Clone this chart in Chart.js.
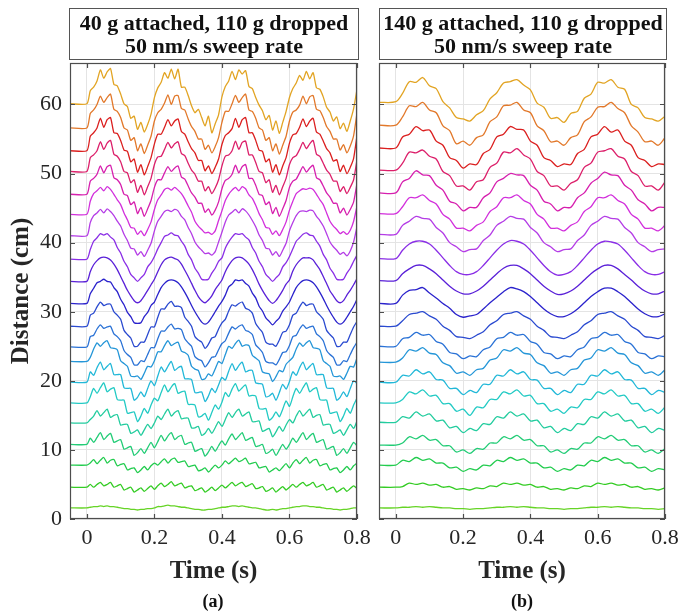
<!DOCTYPE html>
<html>
<head>
<meta charset="utf-8">
<script src="https://cdn.jsdelivr.net/npm/chart.js@4/dist/chart.umd.min.js"></script>
<style>
  html, body { margin: 0; padding: 0; background: #fff; }
  #fig { position: relative; width: 678px; height: 614px; overflow: hidden; }
  canvas { position: absolute; top: 0; }
  .ttl { position: absolute; top: 8px; height: 52px; box-sizing: border-box; border: 1.5px solid #555;
         font: bold 22px 'Liberation Serif', 'Times New Roman', serif; line-height: 23px; text-align: center;
         padding-top: 2px; color: #111; }
  .tag { position: absolute; top: 591px; width: 60px; text-align: center; color: #111;
         font: bold 18px 'Liberation Serif', 'Times New Roman', serif; }
</style>
</head>
<body>
<div id="fig">
  <canvas id="chartA" width="380" height="614" style="left:0"></canvas>
  <canvas id="chartB" width="316" height="614" style="left:362px"></canvas>
  <div class="ttl" style="left:69px;width:290px">40 g attached, 110 g dropped<br>50 nm/s sweep rate</div>
  <div class="ttl" style="left:379px;width:288px">140 g attached, 110 g dropped<br>50 nm/s sweep rate</div>
  <div class="tag" style="left:183px">(a)</div>
  <div class="tag" style="left:492px">(b)</div>
</div>
<script>
"use strict";

// time axes (s)
const timeA = [-0.05,0,0.01,0.02,0.03,0.04,0.05,0.06,0.07,0.08,0.09,0.1,0.11,0.12,0.13,0.14,0.15,0.16,0.17,0.18,0.19,
  0.2,0.21,0.22,0.23,0.24,0.25,0.26,0.27,0.28,0.29,0.3,0.31,0.32,0.33,0.34,0.35,0.36,0.37,0.38,0.39,
  0.4,0.41,0.42,0.43,0.44,0.45,0.46,0.47,0.48,0.49,0.5,0.51,0.52,0.53,0.54,0.55,0.56,0.57,0.58,0.59,
  0.6,0.61,0.62,0.63,0.64,0.65,0.66,0.67,0.68,0.69,0.7,0.71,0.72,0.73,0.74,0.75,0.76,0.77,0.78,0.79,0.8];
const timeB = [-0.05,0,0.02,0.04,0.06,0.08,0.1,0.12,0.14,0.16,0.18,0.2,0.22,0.24,0.26,0.28,0.3,0.32,0.34,0.36,0.38,
  0.4,0.42,0.44,0.46,0.48,0.5,0.52,0.54,0.56,0.58,0.6,0.62,0.64,0.66,0.68,0.7,0.72,0.74,0.76,0.78,0.8];

const xTicks = [0, 0.2, 0.4, 0.6, 0.8];
const yTicks = [0, 10, 20, 30, 40, 50, 60];

// panel (a): 40 g attached, traces top to bottom (cm)
const a01 = [60.1,60.1,62.0,62.5,63.4,65.0,63.8,64.7,65.2,62.9,62.7,61.5,60.1,59.7,58.0,58.3,56.4,57.4,56.0,57.1,58.6,
  61.0,62.4,63.2,64.6,63.8,65.1,63.7,65.1,62.5,62.5,61.3,59.8,58.8,59.3,58.1,56.9,58.3,55.9,57.2,58.5,
  61.1,62.6,63.4,64.8,63.6,65.0,64.4,64.9,62.6,62.3,61.0,59.9,59.1,57.8,58.4,56.3,57.6,55.8,57.4,59.0,
  61.0,62.3,63.1,64.2,63.5,64.8,63.7,64.6,62.4,62.2,61.1,59.6,58.9,57.6,58.2,56.5,57.3,56.1,57.6,59.4,62.2];
const a02 = [56.6,56.6,58.7,59.2,60.0,61.2,60.3,61.0,61.5,59.3,59.0,58.1,56.6,56.3,54.8,55.2,53.3,54.3,52.9,54.1,55.4,
  57.6,58.8,59.3,60.2,61.4,60.0,61.2,61.3,59.4,59.2,57.9,56.8,56.1,55.0,55.0,53.5,54.1,53.0,53.9,55.2,
  57.4,59.0,59.0,60.1,61.3,60.3,61.0,61.5,59.2,59.0,58.0,56.6,56.3,54.8,55.2,53.3,54.3,52.8,54.1,55.4,
  57.6,58.9,59.2,59.9,61.2,60.1,61.1,61.3,59.3,59.1,58.1,56.8,56.1,55.0,55.0,53.4,54.2,53.0,54.0,55.5,58.8];
const a03 = [53.3,53.3,55.4,55.9,56.6,58.0,56.7,57.8,58.1,55.9,55.8,54.8,53.4,53.2,51.7,52.1,50.2,51.3,49.8,51.0,52.3,
  54.3,55.7,55.7,56.7,57.8,56.9,57.6,57.9,56.1,55.7,54.6,53.6,53.0,51.9,51.9,50.4,51.1,50.0,50.9,52.1,
  54.2,55.5,55.9,56.5,58.0,56.7,57.8,58.1,55.9,55.9,54.8,53.4,53.2,51.7,52.1,50.2,51.3,49.8,51.1,52.3,
  54.4,55.6,55.8,56.7,57.9,56.8,57.6,58.0,56.0,55.7,54.7,53.6,53.0,51.8,52.0,50.3,51.2,50.0,50.9,52.2,55.5];
const a04 = [50.3,50.3,52.3,52.7,53.3,54.6,53.5,54.4,54.8,52.8,52.5,51.7,50.3,50.1,48.7,49.1,47.3,48.3,46.9,48.1,49.3,
  51.3,52.4,52.5,53.5,54.5,53.7,54.3,54.6,52.9,52.6,51.5,50.5,49.9,48.9,48.9,47.5,48.1,47.1,47.9,49.1,
  51.1,52.5,52.7,53.3,54.7,53.5,54.5,54.7,52.7,52.7,51.6,50.3,50.1,48.7,49.1,47.3,48.3,46.9,48.1,49.3,
  51.3,52.3,52.6,53.5,54.5,53.6,54.3,54.8,52.8,52.5,51.5,50.5,49.9,48.9,48.9,47.4,48.1,47.1,48.0,49.1,52.0];
const a05 = [47.0,47.0,48.9,49.3,49.9,51.1,50.1,51.0,51.2,49.4,49.1,48.4,47.0,46.8,45.5,45.9,44.2,45.1,43.8,44.9,46.1,
  48.0,49.1,49.1,50.1,51.0,50.3,50.8,51.1,49.5,49.2,48.2,47.2,46.6,45.7,45.7,44.4,44.9,44.0,44.7,45.9,
  47.8,49.0,49.3,49.9,51.2,50.1,51.0,51.3,49.3,49.3,48.3,47.0,46.8,45.5,45.9,44.2,45.1,43.8,44.9,46.1,
  48.0,48.9,49.2,50.1,51.0,50.2,50.8,51.2,49.4,49.1,48.2,47.2,46.6,45.7,45.7,44.3,45.0,44.0,44.8,45.9,48.6];
const a06 = [44.1,44.1,46.0,47.1,47.5,48.0,47.5,48.1,47.7,47.0,46.2,45.5,44.3,43.3,42.2,42.1,41.2,41.7,41.0,41.9,43.0,
  44.8,46.2,46.9,47.7,47.9,47.6,48.0,47.6,47.1,46.3,45.3,44.4,43.1,42.4,41.9,41.4,41.5,41.2,41.7,43.2,
  44.6,46.1,47.0,47.6,48.0,47.5,48.1,47.8,46.9,46.4,45.4,44.2,43.3,42.2,42.1,41.2,41.7,41.0,41.9,43.0,
  44.7,46.0,47.1,47.5,47.8,47.7,47.9,47.7,47.0,46.2,45.5,44.3,43.1,42.4,41.9,41.3,41.6,41.2,41.8,43.1,45.3];
const a07 = [41.0,41.0,42.9,43.9,44.3,44.8,44.3,44.9,44.5,43.9,43.1,42.4,41.2,40.3,39.2,39.1,38.2,38.7,38.0,38.9,39.9,
  41.7,43.1,43.8,44.5,44.7,44.5,44.8,44.6,43.8,43.3,42.2,41.3,40.1,39.4,38.9,38.4,38.5,38.2,38.7,40.1,
  41.5,43.0,44.0,44.4,44.8,44.3,44.9,44.6,44.0,43.2,42.3,41.1,40.3,39.2,39.1,38.2,38.7,38.0,38.9,39.9,
  41.7,42.9,43.9,44.5,44.6,44.5,44.7,44.6,43.8,43.2,42.4,41.3,40.1,39.4,38.9,38.3,38.6,38.1,38.8,40.1,42.3];
const a08 = [37.6,37.6,39.0,40.2,40.7,41.3,41.1,41.3,40.8,40.4,39.3,38.5,37.3,36.5,35.4,34.9,34.4,34.9,35.4,36.5,37.1,
  38.0,39.1,40.0,40.9,41.1,41.4,41.1,41.0,40.2,39.5,38.3,37.5,36.3,35.6,34.7,34.6,34.7,35.6,36.3,37.3,
  37.8,39.2,40.1,40.8,41.3,41.2,41.3,40.8,40.4,39.3,38.5,37.3,36.5,35.4,34.9,34.4,34.9,35.4,36.5,37.1,
  38.0,39.1,40.2,40.7,41.2,41.4,41.1,41.0,40.2,39.5,38.3,37.5,36.3,35.6,34.7,34.6,34.7,35.6,36.3,37.3,38.2];
const a09 = [34.4,34.4,35.8,36.8,37.4,37.8,37.9,37.8,37.5,36.9,36.1,35.1,34.1,33.1,32.3,31.6,31.3,31.6,32.3,33.1,33.9,
  34.7,35.8,36.8,37.5,37.8,37.9,37.7,37.5,36.9,36.0,35.1,34.1,33.1,32.2,31.6,31.3,31.7,32.3,33.2,33.9,
  34.6,35.8,36.7,37.4,37.8,37.9,37.8,37.4,36.9,36.1,35.1,34.0,33.1,32.3,31.6,31.2,31.6,32.3,33.1,34.0,
  34.6,35.9,36.8,37.4,37.8,37.8,37.8,37.5,36.8,36.1,35.1,34.1,33.0,32.3,31.6,31.3,31.6,32.4,33.1,33.9,34.8];
const a10 = [31.2,31.2,32.6,33.4,34.2,34.4,34.7,34.4,34.3,33.5,32.9,31.8,31.0,29.9,29.3,28.4,28.3,28.4,29.3,29.9,30.9,
  31.4,32.5,33.5,34.1,34.5,34.6,34.5,34.2,33.6,32.8,31.9,30.9,30.0,29.2,28.5,28.2,28.5,29.2,30.0,30.8,
  31.5,32.4,33.6,34.0,34.6,34.5,34.6,34.1,33.7,32.7,32.0,30.8,30.1,29.1,28.6,28.1,28.6,29.1,30.1,30.7,
  31.4,32.5,33.5,34.1,34.5,34.6,34.5,34.2,33.6,32.8,31.9,30.9,30.0,29.2,28.5,28.2,28.5,29.2,30.0,30.8,31.8];
const a11 = [27.9,27.9,29.5,29.8,30.7,31.4,30.9,31.1,31.1,30.0,29.5,28.9,27.3,26.7,26.2,25.0,25.0,25.6,25.6,26.7,27.8,
  27.8,29.2,30.4,30.4,31.1,31.5,30.8,30.8,30.6,29.2,28.6,27.9,26.4,25.9,25.6,24.7,25.3,26.2,26.4,27.5,
  28.4,28.9,30.1,31.0,30.8,31.2,31.4,30.5,30.3,29.8,28.3,27.6,27.0,25.6,25.3,25.3,25.0,25.9,27.0,27.2,
  28.1,29.5,29.8,30.7,31.4,30.9,31.1,31.1,30.0,29.5,28.9,27.3,26.7,26.2,25.0,25.0,25.6,25.6,26.7,27.8,28.6];
const a12 = [24.9,24.9,26.4,26.6,27.5,28.1,27.6,27.8,27.9,26.8,26.4,25.8,24.4,23.8,23.4,22.3,22.3,22.9,22.8,23.8,24.8,
  24.8,26.1,27.2,27.2,27.8,28.2,27.5,27.6,27.4,26.1,25.5,25.0,23.5,23.1,22.9,22.0,22.6,23.4,23.5,24.5,
  25.4,25.8,26.9,27.8,27.5,27.9,28.1,27.3,27.1,26.7,25.2,24.7,24.1,22.8,22.6,22.6,22.3,23.1,24.1,24.2,
  25.1,26.4,26.6,27.5,28.1,27.6,27.8,27.9,26.8,26.4,25.8,24.4,23.8,23.4,22.3,22.3,22.9,22.8,23.8,24.8,25.6];
const a13 = [22.8,22.8,23.4,24.6,25.5,25.0,25.5,25.8,24.8,24.7,24.5,22.9,22.5,22.1,20.7,20.6,20.7,20.2,21.1,22.1,22.0,
  22.9,24.2,24.2,25.1,25.8,25.1,25.4,25.6,24.3,24.1,23.7,22.1,21.7,21.5,20.2,20.3,21.0,20.7,21.7,22.8,
  22.5,23.8,25.0,24.7,25.4,25.9,25.0,25.2,25.1,23.7,23.3,22.9,21.3,21.1,21.0,19.9,20.6,21.5,21.3,22.4,
  22.9,23.4,24.6,25.5,25.0,25.5,25.8,24.8,24.7,24.5,22.9,22.5,22.1,20.7,20.6,20.7,20.2,21.1,22.1,22.0,23.3];
const a14 = [19.8,19.8,21.3,20.8,21.9,22.7,21.6,22.1,22.5,20.9,20.9,20.9,19.0,18.9,18.9,17.2,17.6,18.4,17.7,18.9,20.0,
  19.3,20.7,22.0,21.3,22.1,22.8,21.5,21.9,22.1,20.3,20.3,20.2,18.3,18.3,18.4,17.0,17.8,18.9,18.3,19.4,
  20.5,20.1,21.4,22.5,21.5,22.2,22.7,21.3,21.5,21.5,19.7,19.6,19.5,17.7,17.8,18.2,17.2,18.3,19.5,18.8,
  19.9,21.3,20.8,21.9,22.7,21.6,22.1,22.5,20.9,20.9,20.9,19.0,18.9,18.9,17.2,17.6,18.4,17.7,18.9,20.0,19.6];
const a15 = [16.8,16.8,17.7,18.9,18.2,19.0,19.7,18.4,18.8,19.0,17.3,17.2,17.2,15.3,15.4,15.5,14.1,14.9,16.0,15.3,16.5,
  17.5,17.1,18.3,19.4,18.4,19.1,19.6,18.2,18.4,18.5,16.6,16.6,16.5,14.8,14.9,15.3,14.3,15.4,16.5,15.9,
  16.9,18.3,17.7,18.8,19.6,18.5,19.0,19.4,17.8,17.9,17.8,16.0,15.9,16.0,14.3,14.7,15.5,14.8,15.9,17.1,
  16.3,17.7,18.9,18.2,19.0,19.7,18.4,18.8,19.0,17.3,17.2,17.2,15.3,15.4,15.5,14.1,14.9,16.0,15.3,16.5,17.5];
const a16 = [13.9,13.9,14.4,14.9,15.7,14.9,15.4,15.9,14.7,15.0,15.1,13.6,13.7,13.7,12.4,12.6,12.9,12.1,12.9,13.7,13.1,
  13.9,14.9,14.4,15.2,15.9,14.9,15.4,15.7,14.5,14.6,14.6,13.2,13.2,13.4,12.1,12.4,13.1,12.4,13.2,14.1,
  13.4,14.4,15.4,14.7,15.4,15.9,14.9,15.2,15.5,14.1,14.1,14.2,12.7,12.9,13.1,11.9,12.6,13.4,12.7,13.6,
  14.4,13.9,14.9,15.7,14.9,15.4,15.9,14.7,15.0,15.1,13.6,13.7,13.7,12.4,12.6,12.9,12.1,12.9,13.7,13.1,14.2];
const a17 = [10.8,10.8,11.7,11.1,11.8,12.5,11.5,12.0,12.4,11.1,11.3,11.5,10.1,10.3,10.5,9.2,9.6,10.2,9.5,10.3,11.1,
  10.3,11.2,12.1,11.3,12.0,12.5,11.5,11.9,12.1,10.8,11.0,11.1,9.8,10.0,10.2,9.1,9.7,10.5,9.8,10.6,
  11.3,10.7,11.6,12.3,11.5,12.0,12.5,11.4,11.6,11.8,10.5,10.6,10.8,9.5,9.7,10.1,9.2,10.0,10.8,10.1,
  10.8,11.7,11.1,11.8,12.5,11.5,12.0,12.4,11.1,11.3,11.5,10.1,10.3,10.5,9.2,9.6,10.2,9.5,10.3,11.1,10.6];
const a18 = [7.8,7.8,8.1,8.6,8.0,8.5,8.9,8.1,8.5,8.6,7.7,7.9,8.0,7.1,7.3,7.4,6.7,7.1,7.6,7.1,7.7,
  8.1,7.8,8.3,8.7,8.1,8.6,8.8,8.2,8.3,8.4,7.6,7.7,7.8,7.0,7.1,7.4,6.8,7.3,7.8,7.4,
  7.8,8.4,8.0,8.4,8.8,8.3,8.5,8.8,8.0,8.1,8.2,7.4,7.5,7.6,6.8,7.1,7.4,7.0,7.5,8.0,
  7.4,8.1,8.6,8.0,8.5,8.9,8.1,8.5,8.6,7.7,7.9,8.0,7.1,7.3,7.4,6.7,7.1,7.6,7.1,7.7,8.1];
const a19 = [4.6,4.6,5.0,4.6,5.0,5.3,4.8,5.0,5.3,4.6,4.8,5.0,4.2,4.4,4.6,3.9,4.2,4.5,4.0,4.4,4.8,
  4.3,4.8,5.2,4.7,5.0,5.4,4.8,5.0,5.2,4.5,4.7,4.8,4.1,4.3,4.5,3.9,4.2,4.6,4.1,4.5,
  4.9,4.5,4.9,5.3,4.8,5.1,5.3,4.7,4.9,5.1,4.4,4.5,4.7,4.0,4.2,4.5,3.9,4.3,4.7,4.2,
  4.6,5.0,4.6,5.0,5.3,4.8,5.0,5.3,4.6,4.8,5.0,4.2,4.4,4.6,3.9,4.2,4.5,4.0,4.4,4.8,4.4];
const a20 = [1.6,1.6,1.7,1.8,1.8,1.9,1.8,1.9,1.8,1.8,1.7,1.6,1.5,1.5,1.4,1.4,1.3,1.4,1.4,1.5,1.5,
  1.6,1.8,1.8,1.9,2.0,1.9,1.9,1.8,1.7,1.7,1.6,1.5,1.4,1.4,1.3,1.3,1.4,1.4,1.5,1.6,
  1.7,1.7,1.8,1.9,1.9,1.8,1.9,1.8,1.7,1.6,1.6,1.5,1.4,1.3,1.3,1.4,1.3,1.4,1.5,1.5,
  1.6,1.7,1.8,1.8,1.9,1.9,1.8,1.8,1.7,1.7,1.6,1.5,1.5,1.4,1.4,1.3,1.4,1.4,1.5,1.6,1.6];

// panel (b): 140 g attached, traces top to bottom (cm)
const b01 = [60.3,60.4,61.6,63.3,63.2,63.9,62.7,62.3,60.4,59.5,58.1,57.9,57.6,58.5,59.1,60.8,61.7,63.1,63.3,63.6,62.8,
  62.1,60.2,59.6,58.0,58.1,57.4,58.7,59.0,60.9,61.5,63.2,63.1,63.6,62.5,62.2,60.0,59.5,58.1,57.9,57.6,58.3];
const b02 = [57.0,57.0,58.2,59.8,59.7,60.3,59.2,58.8,56.9,56.2,54.3,54.7,54.1,55.2,55.6,57.5,58.2,59.8,59.9,60.3,59.2,
  58.8,56.9,56.2,54.6,54.7,54.1,55.2,55.6,57.5,58.2,59.6,59.7,60.3,59.4,58.8,56.9,56.0,54.6,54.7,54.1,55.2];
const b03 = [53.7,53.7,55.3,55.7,56.8,56.2,56.3,54.7,54.1,52.3,51.9,50.8,51.4,51.3,52.9,53.5,55.3,55.7,56.8,56.4,56.3,
  54.7,54.1,52.3,51.9,51.0,51.4,51.3,52.9,53.5,55.3,55.7,56.8,56.0,56.3,54.7,54.1,52.3,51.9,51.0,51.4,51.3];
const b04 = [50.5,50.5,51.5,53.1,53.0,53.4,52.5,52.1,50.3,49.7,48.2,48.2,47.6,48.8,49.1,50.9,51.5,53.1,53.0,53.6,52.7,
  52.1,50.3,49.7,48.2,48.2,47.6,48.6,49.1,50.9,51.5,53.1,53.3,53.6,52.5,52.1,50.3,49.7,48.2,48.2,47.6,48.8];
const b05 = [47.2,47.2,48.8,49.3,50.4,49.8,49.7,48.3,47.6,46.0,45.6,44.6,45.1,45.1,46.5,47.2,48.8,49.3,50.0,49.8,49.7,
  48.3,47.6,46.0,45.6,44.6,45.1,45.1,46.5,47.2,48.6,49.3,50.2,49.8,49.7,48.3,47.6,46.2,45.6,44.6,45.1,45.1];
const b06 = [44.2,44.2,45.2,46.5,46.5,46.9,46.1,45.6,44.1,43.4,42.1,42.1,41.7,42.5,43.0,44.5,45.2,46.5,46.5,46.9,46.1,
  45.6,44.1,43.4,42.1,42.1,41.7,42.5,43.0,44.5,45.2,46.5,46.5,46.9,46.1,45.6,44.1,43.4,42.1,42.1,41.7,42.5];
const b07 = [41.2,41.2,42.5,43.1,43.8,43.5,43.4,42.2,41.4,40.0,39.4,38.7,39.0,39.1,40.3,41.1,42.5,43.1,43.8,43.5,43.4,
  42.2,41.4,40.0,39.4,38.7,39.0,39.1,40.3,41.1,42.5,43.1,43.8,43.5,43.4,42.2,41.4,40.0,39.4,38.7,39.0,39.1];
const b08 = [37.7,37.7,38.9,39.8,40.2,40.2,39.8,38.9,37.8,36.7,35.8,35.4,35.4,35.8,36.7,37.8,38.9,39.8,40.3,40.2,39.8,
  38.9,37.8,36.7,35.8,35.3,35.4,35.8,36.7,37.8,38.9,39.8,40.2,40.1,39.8,38.9,37.8,36.7,35.8,35.4,35.4,35.8];
const b09 = [34.5,34.5,35.5,36.2,36.7,36.7,36.2,35.5,34.6,33.7,33.0,32.6,32.6,33.0,33.7,34.6,35.5,36.3,36.7,36.7,36.2,
  35.5,34.6,33.7,33.0,32.5,32.6,33.0,33.7,34.6,35.5,36.2,36.7,36.7,36.2,35.4,34.6,33.7,33.0,32.6,32.6,33.0];
const b10 = [31.2,31.2,32.4,33.1,33.2,33.5,32.7,32.0,31.2,30.5,29.6,29.2,29.4,29.6,30.4,31.3,32.1,32.9,33.5,33.3,32.9,
  32.2,31.3,30.4,29.7,29.3,29.3,29.7,30.4,31.3,32.2,32.9,33.4,33.4,32.9,32.2,31.3,30.4,29.7,29.3,29.3,29.7];
const b11 = [27.9,27.9,28.7,29.6,29.8,30.0,29.4,28.9,27.9,27.3,26.4,26.3,26.1,26.6,27.1,28.1,28.7,29.6,29.8,30.0,29.4,
  28.9,27.9,27.3,26.4,26.3,26.1,26.6,27.1,28.1,28.7,29.6,29.8,30.0,29.4,28.9,27.9,27.3,26.4,26.3,26.1,26.6];
const b12 = [25.0,25.0,26.1,26.3,27.0,26.6,26.7,25.7,25.3,24.1,23.9,23.2,23.6,23.5,24.5,24.9,26.1,26.3,27.0,26.6,26.7,
  25.7,25.3,24.1,23.9,23.2,23.6,23.5,24.5,24.9,26.1,26.3,27.0,26.6,26.7,25.7,25.3,24.1,23.9,23.2,23.6,23.5];
const b13 = [22.7,22.7,23.3,24.5,24.3,24.8,24.0,23.8,22.6,22.2,21.1,21.3,20.8,21.6,21.8,23.0,23.3,24.5,24.3,24.8,24.0,
  23.8,22.6,22.2,21.1,21.3,20.8,21.6,21.8,23.0,23.3,24.5,24.3,24.8,24.0,23.8,22.6,22.2,21.1,21.3,20.8,21.6];
const b14 = [19.8,19.8,20.8,20.7,21.6,21.0,21.3,20.2,20.1,18.9,18.9,18.0,18.6,18.3,19.5,19.5,20.8,20.7,21.6,21.0,21.3,
  20.2,20.1,18.9,18.9,18.0,18.6,18.3,19.5,19.5,20.8,20.7,21.6,21.0,21.3,20.2,20.1,18.9,18.9,18.0,18.6,18.3];
const b15 = [16.8,16.8,17.3,18.4,18.1,18.7,17.8,17.9,16.7,16.7,15.6,15.9,15.0,16.2,16.1,17.3,17.3,18.4,18.1,18.7,17.8,
  17.9,16.7,16.7,15.6,15.9,15.3,16.2,16.1,17.3,17.3,18.4,18.1,18.7,17.8,17.9,16.7,16.7,15.6,15.9,15.3,16.2];
const b16 = [14.0,14.0,14.8,14.6,15.5,14.9,15.2,14.2,14.3,13.2,13.4,12.5,13.1,12.8,13.8,13.7,14.8,14.6,15.5,14.9,15.2,
  14.2,14.3,13.2,13.4,12.5,13.1,12.8,13.8,13.7,14.8,14.6,15.5,14.9,15.2,14.2,14.3,13.2,13.4,12.5,13.1,12.8];
const b17 = [10.7,10.7,11.0,11.9,11.6,12.1,11.4,11.5,10.6,10.6,9.7,10.0,9.5,10.2,10.1,11.0,11.0,11.9,11.6,12.1,11.4,
  11.5,10.6,10.6,9.7,10.0,9.5,10.2,10.1,11.0,11.0,11.9,11.6,12.1,11.4,11.5,10.6,10.6,9.7,10.0,9.5,10.2];
const b18 = [7.8,7.8,8.5,8.3,8.9,8.5,8.7,8.1,8.1,7.4,7.5,6.9,7.3,7.1,7.8,7.7,8.5,8.3,8.9,8.5,8.7,
  8.1,8.1,7.4,7.5,6.9,7.3,7.1,7.8,7.7,8.5,8.3,8.9,8.5,8.7,8.1,8.1,7.4,7.5,6.9,7.3,7.1];
const b19 = [4.6,4.6,4.7,5.2,5.0,5.2,4.9,5.0,4.6,4.7,4.3,4.4,4.2,4.5,4.4,4.8,4.7,5.2,5.0,5.2,4.9,
  5.0,4.6,4.7,4.3,4.4,4.2,4.5,4.4,4.8,4.7,5.2,5.0,5.2,4.9,5.0,4.6,4.7,4.3,4.4,4.2,4.5];
const b20 = [1.6,1.6,1.7,1.7,1.8,1.7,1.8,1.7,1.6,1.6,1.5,1.5,1.4,1.5,1.5,1.6,1.7,1.7,1.8,1.7,1.8,
  1.7,1.6,1.6,1.5,1.5,1.4,1.5,1.5,1.6,1.7,1.7,1.8,1.7,1.8,1.7,1.6,1.6,1.5,1.5,1.4,1.5];

const traceColors = ['#e2a423', '#e2782a', '#db1f1f', '#dc1f6a', '#d61fae', '#d22fdc', '#b43ce6', '#8a2ee6',
  '#5a20d8', '#2a22cc', '#2a4ad0', '#2a72d6', '#2496d8', '#22b8d8', '#22cac4', '#22cc9e', '#22cc76', '#22cc4e',
  '#34cc24', '#66d426'];

const panelA = [a01, a02, a03, a04, a05, a06, a07, a08, a09, a10, a11, a12, a13, a14, a15, a16, a17, a18, a19, a20];
const panelB = [b01, b02, b03, b04, b05, b06, b07, b08, b09, b10, b11, b12, b13, b14, b15, b16, b17, b18, b19, b20];

const SERIF = "'Liberation Serif', 'Times New Roman', serif";
const INK = '#262626';

// matlab-like box with inward ticks on all four sides
const boxTicks = {
  id: 'boxTicks',
  afterDraw(chart) {
    const {ctx, chartArea: a, scales} = chart;
    const len = 5;
    ctx.save();
    ctx.strokeStyle = '#4d4d4d';
    ctx.lineWidth = 1.2;
    ctx.beginPath();
    scales.x.ticks.forEach(t => {
      const px = Math.round(scales.x.getPixelForValue(t.value)) + 0.5;
      ctx.moveTo(px, a.bottom); ctx.lineTo(px, a.bottom - len);
      ctx.moveTo(px, a.top); ctx.lineTo(px, a.top + len);
    });
    scales.y.ticks.forEach(t => {
      const py = Math.round(scales.y.getPixelForValue(t.value)) + 0.5;
      ctx.moveTo(a.left, py); ctx.lineTo(a.left + len, py);
      ctx.moveTo(a.right, py); ctx.lineTo(a.right - len, py);
    });
    ctx.stroke();
    ctx.strokeRect(a.left + 0.5, a.top + 0.5, a.right - a.left - 1, a.bottom - a.top - 1);
    ctx.restore();
  }
};

function datasets(times, traces, smooth) {
  return traces.map((vals, i) => ({
    data: times.map((t, k) => ({x: t, y: vals[k]})),
    borderColor: traceColors[i],
    borderWidth: 1.3,
    pointRadius: 0,
    fill: false,
    tension: smooth
  }));
}

function options(leftAxis, rightPad) {
  return {
    responsive: false,
    animation: false,
    layout: {padding: {top: 63, right: rightPad, bottom: 0, left: 0}},
    plugins: {legend: {display: false}, tooltip: {enabled: false}},
    scales: {
      x: {
        type: 'linear', min: -0.05, max: 0.8,
        afterBuildTicks: s => { s.ticks = xTicks.map(v => ({value: v})); },
        afterFit: s => { s.height = 95; s.paddingLeft = 0; s.paddingRight = 0; },
        grid: {color: '#e4e4e4', drawTicks: false},
        border: {display: false},
        ticks: {padding: 6, color: INK, font: {family: SERIF, size: 22}, maxRotation: 0,
                callback: v => String(v)},
        title: {display: true, text: 'Time (s)', color: INK,
                font: {family: SERIF, size: 25, weight: 'bold'}, padding: {top: 0, bottom: 27}}
      },
      y: {
        min: 0, max: 66,
        afterBuildTicks: s => { s.ticks = yTicks.map(v => ({value: v})); },
        afterFit: s => { s.width = leftAxis ? 70 : 17; s.paddingTop = 0; s.paddingBottom = 0; },
        grid: {color: '#e4e4e4', drawTicks: false},
        border: {display: false},
        ticks: {display: leftAxis, padding: 8, color: INK, font: {family: SERIF, size: 22}},
        title: {display: leftAxis, text: 'Distance (cm)', color: INK,
                font: {family: SERIF, size: 25, weight: 'bold'}, padding: {top: 7, bottom: 0}}
      }
    }
  };
}

new Chart(document.getElementById('chartA'), {
  type: 'line',
  data: {datasets: datasets(timeA, panelA, 0.2)},
  options: options(true, 23),
  plugins: [boxTicks]
});

new Chart(document.getElementById('chartB'), {
  type: 'line',
  data: {datasets: datasets(timeB, panelB, 0.3)},
  options: options(false, 13),
  plugins: [boxTicks]
});
</script>
</body>
</html>
